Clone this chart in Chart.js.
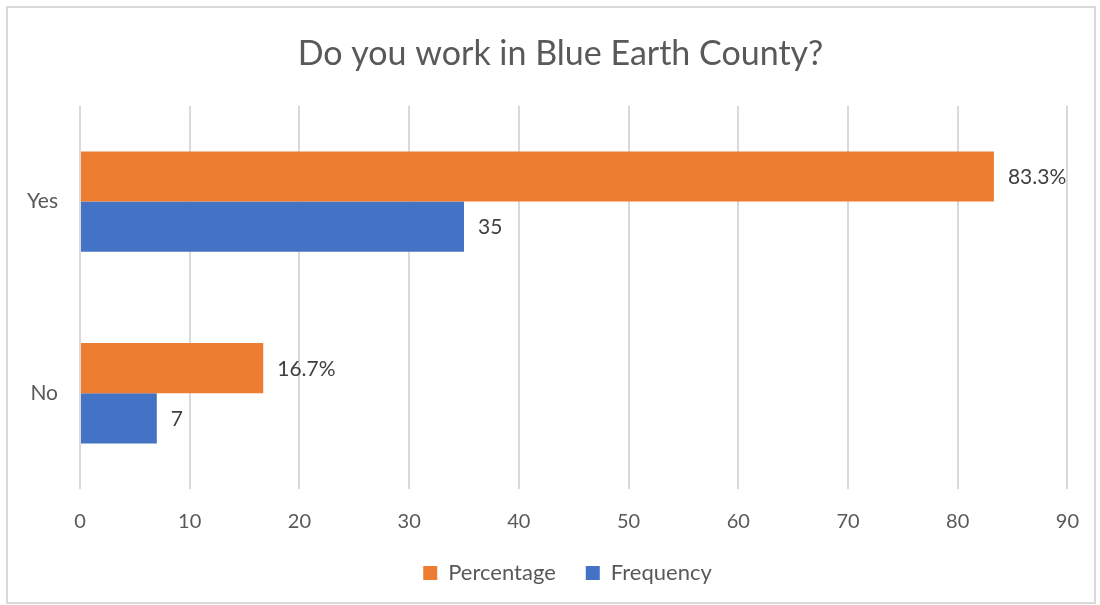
<!DOCTYPE html>
<html>
<head>
<meta charset="utf-8">
<script src="https://cdn.jsdelivr.net/npm/chart.js@4"></script>
<style>
  html, body { margin: 0; padding: 0; background: #fff; }
  #wrap { width: 1100px; height: 605px; }
</style>
</head>
<body>
<div id="wrap"><canvas id="workChart" width="1100" height="605"></canvas></div>
<script>
// données
const categories = ['Yes', 'No'];
const percentageValues = [83.3, 16.7];
const frequencyValues = [35, 7];
const percentageLabels = ['83.3%', '16.7%'];
const frequencyLabels = ['35', '7'];
const xTicks = [0, 10, 20, 30, 40, 50, 60, 70, 80, 90];

const FONT = 'Lato, "Open Sans", sans-serif';
const TEXT = '#595959';

// étiquettes au bout des barres
const barLabels = {
    id: 'barLabels',
    afterDatasetsDraw(chart) {
        const ctx = chart.ctx;
        ctx.save();
        ctx.font = '21px ' + FONT;
        ctx.fillStyle = '#404040';
        ctx.textAlign = 'left';
        ctx.textBaseline = 'middle';
        chart.data.datasets.forEach((ds, i) => {
            chart.getDatasetMeta(i).data.forEach((bar, j) => {
                ctx.fillText(ds.valueLabels[j], bar.x + 14, bar.y + 1);
            });
        });
        ctx.restore();
    }
};

// cadre gris autour du graphique
const frame = {
    id: 'frame',
    beforeDraw(chart) {
        const ctx = chart.ctx;
        ctx.save();
        ctx.fillStyle = '#fff';
        ctx.fillRect(0, 0, chart.width, chart.height);
        ctx.strokeStyle = '#d9d9d9';
        ctx.lineWidth = 2;
        ctx.strokeRect(7, 7, 1088, 596);
        ctx.restore();
    }
};

// décale le titre et la légende comme dans Excel (centrés sur la zone de tracé)
function shiftBox(box, dx) {
    if (!box || box._shifted) return;
    const draw = box.draw.bind(box);
    box.draw = function(area) {
        const ctx = this.ctx;
        ctx.save();
        ctx.translate(dx, 0);
        draw(area);
        ctx.restore();
    };
    box._shifted = true;
}
const shiftBoxes = {
    id: 'shiftBoxes',
    beforeLayout(chart) {
        shiftBox(chart.titleBlock, 22);
        shiftBox(chart.legend, 29);
    }
};

new Chart(document.getElementById('workChart'), {
    type: 'bar',
    data: {
        labels: categories,
        datasets: [{
            label: 'Percentage',
            data: percentageValues,
            valueLabels: percentageLabels,
            backgroundColor: '#ED7D31'
        }, {
            label: 'Frequency',
            data: frequencyValues,
            valueLabels: frequencyLabels,
            backgroundColor: '#4472C4'
        }]
    },
    options: {
        indexAxis: 'y',
        responsive: false,
        animation: false,
        datasets: { bar: { categoryPercentage: 0.524, barPercentage: 1 } },
        layout: { padding: { left: 0, right: 23, top: 0, bottom: 11 } },
        plugins: {
            title: {
                display: true,
                text: 'Do you work in Blue Earth County?',
                color: TEXT,
                font: { family: FONT, size: 34, weight: 'normal' },
                padding: { top: 34, bottom: 31 }
            },
            legend: {
                position: 'bottom',
                labels: {
                    color: TEXT,
                    font: { family: FONT, size: 22 },
                    boxWidth: 14,
                    boxHeight: 14,
                    padding: 30
                }
            },
            tooltip: { enabled: false }
        },
        scales: {
            x: {
                min: 0,
                max: 90,
                afterBuildTicks: (scale) => { scale.ticks = xTicks.map(v => ({ value: v })); },
                afterFit: (scale) => { scale.height = 43; },
                grid: { color: '#d9d9d9', lineWidth: 2, drawTicks: false },
                border: { display: false },
                ticks: { color: TEXT, font: { family: FONT, size: 20 }, padding: 21 }
            },
            y: {
                afterFit: (scale) => { scale.width = 80; },
                grid: { display: false, drawTicks: false },
                border: { display: false },
                ticks: { color: TEXT, font: { family: FONT, size: 21 }, padding: 22 }
            }
        }
    },
    plugins: [frame, shiftBoxes, barLabels]
});
</script>
</body>
</html>
